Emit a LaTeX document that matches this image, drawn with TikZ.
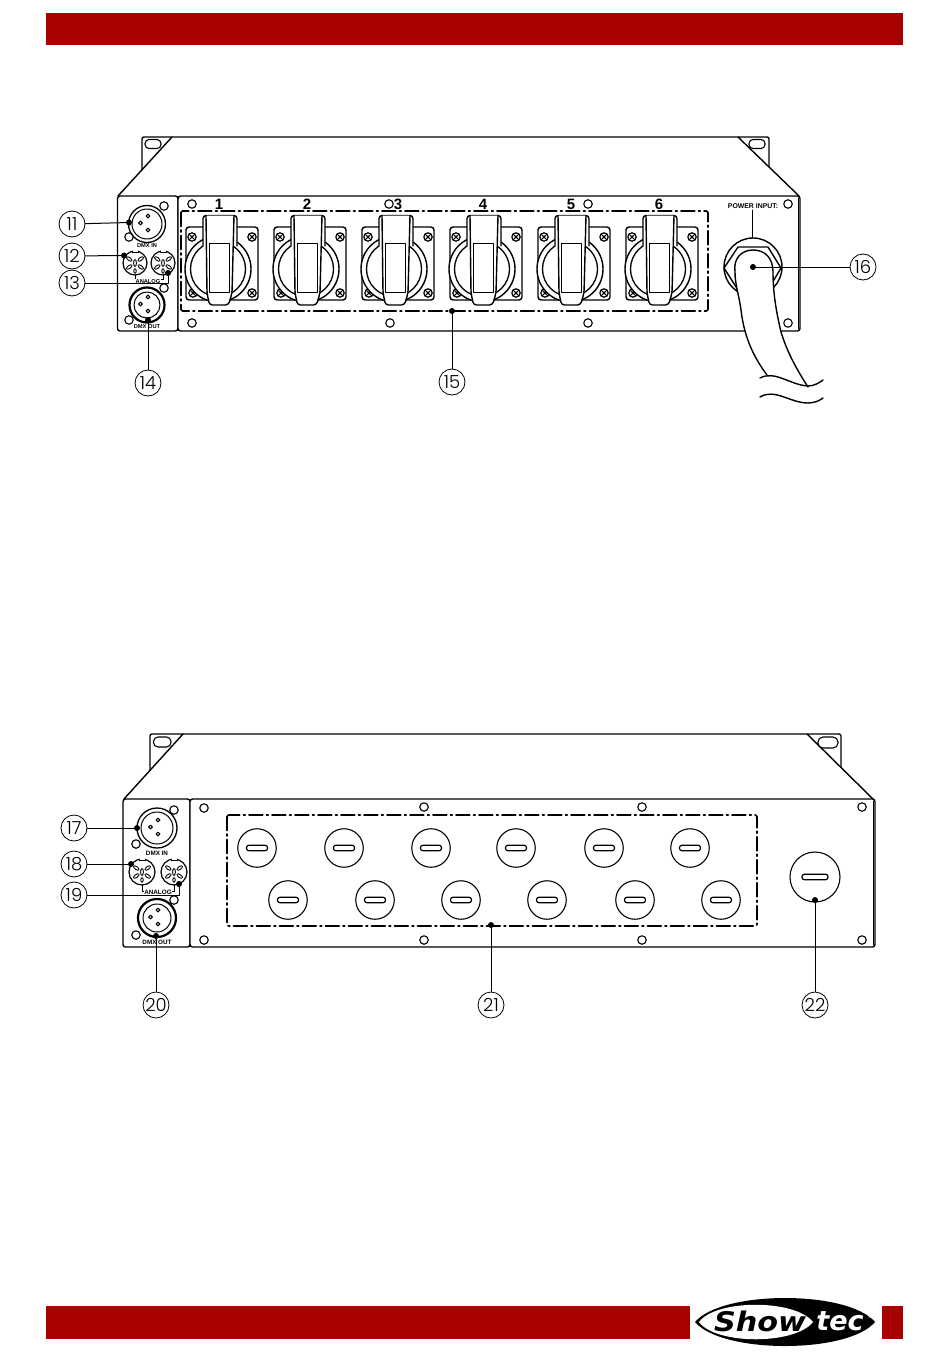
\documentclass[tikz,border=0pt]{standalone}
\usepackage{fontspec}
\setmainfont{Liberation Sans}
\newfontfamily\numf{Poppins Light}
\newfontfamily\logof{DejaVu Sans}
\definecolor{barred}{HTML}{A80000}
\tikzset{
  ln/.style={draw=black,line width=1.4pt},
  thin ln/.style={draw=black,line width=1.1pt},
  hole/.style={draw=black,line width=1.1pt,circle,minimum size=8.5pt,inner sep=0pt},
  leader/.style={draw=black,line width=1pt},
  callout/.style={draw=black,line width=.8pt,circle,minimum size=26pt,inner sep=0pt,fill=white,font=\numf\fontsize{18}{18}\selectfont},
  dotc/.style={circle,fill=black,minimum size=6pt,inner sep=0pt},
  dashbox/.style={draw=black,line width=1.6pt,rounded corners=1.5pt,dash pattern=on 14pt off 3.5pt on 2pt off 3.5pt},
  tinya/.style={font=\bfseries\fontsize{5.7}{6}\selectfont,inner sep=0pt},
  tinyb/.style={font=\bfseries\fontsize{6.3}{7}\selectfont,inner sep=0pt},
  socketnum/.style={font=\bfseries\fontsize{15}{15}\selectfont,inner sep=0pt},
  plugslot/.style={draw=black,line width=1.2pt,rounded corners=2.4pt,minimum width=21pt,minimum height=5.5pt,inner sep=0pt},
  plug/.style={draw=black,line width=1.1pt,circle,minimum size=38.5pt,inner sep=0pt},
}
\newcommand{\xlrpins}[2]{%
  \draw[line width=1pt] (#1+1,#2-8) circle (1.9) (#1-6.5,#2-1) circle (1.9) (#1+1,#2+6) circle (1.9);}
\newcommand{\dinsock}[3]{%
  \draw[line width=1.2pt] (#1,#2) circle (#3);
  \fill[white] (#1-3,#2-#3-1) rectangle (#1+3,#2-#3+1.8);
  \draw[line width=1pt] (#1-3,#2-#3+.2) -- (#1-3,#2-#3+1.8) -- (#1+3,#2-#3+1.8) -- (#1+3,#2-#3+.2);
  \draw[line width=.9pt] (#1,#2) ellipse (1.4 and 3.4) (#1,#2+8) ellipse (1.2 and 2.3);
  \foreach \a in {-35,35,145,215}{
    \draw[line width=.9pt,shift={(#1,#2)},rotate=\a] (7,0) ellipse (3.2 and 1.5);}
}
\begin{document}
\begin{tikzpicture}[x=1pt,y=-1pt,line join=round,line cap=round]
\useasboundingbox (0,0) rectangle (950,1359);
\fill[white] (0,0) rectangle (950,1359);
% bars
\fill[barred] (46,13) rectangle (903,45);
\fill[barred] (46,1306) rectangle (690,1339);
\fill[barred] (882,1306) rectangle (903,1339);
% logo
\fill[black] (695,1322) .. controls (722,1290) and (848,1290) .. (875,1322) .. controls (848,1354) and (722,1354) .. (695,1322) -- cycle;
\fill[white] (699,1322) .. controls (716,1299) and (795,1299) .. (813,1322) .. controls (795,1345) and (716,1345) .. (699,1322) -- cycle;
\node[inner sep=0pt,font=\logof\bfseries\itshape\fontsize{27}{27}\selectfont] (logoa) at (760,1321) {\scalebox{1.12}[1]{Show}};
\node[inner sep=0pt,text=white,font=\logof\bfseries\itshape\fontsize{27}{27}\selectfont] (logob) at (840,1321) {tec};
\node[inner sep=0pt,text=white,font=\logof\fontsize{5}{5}\selectfont] (logoc) at (870,1317) {®};
% ---------- unit 1 ----------
\draw[ln,rounded corners=2pt] (142,170) -- (142,137) -- (769,137) -- (769,167);
\draw[ln] (118,196) -- (172,137);
\draw[ln] (738,137) -- (799,196);
\draw[thin ln,rounded corners=4pt,fill=white] (145,139.5) rectangle (161,148.5);
\draw[thin ln,rounded corners=4pt,fill=white] (749,139.5) rectangle (765,148.5);
\draw[ln,rounded corners=2.5pt,fill=white] (117.5,196) rectangle (178,331);
\draw[ln,rounded corners=2.5pt,fill=white] (178,196) rectangle (800,331);
\draw[line width=.8pt] (798,198) -- (798,329);
\foreach \x/\y in {192/204,389/204,588/204,788/204,192/323,390/323,588/323,788/323,164/206,129/237,164/288,129/320}
  \node[hole] at (\x,\y) {};
% XLR
\draw[line width=1.3pt] (147,224) circle (18.5);
\draw[line width=1pt] (147,224) circle (15);
\xlrpins{147}{224}
\draw[line width=2.2pt] (147,305) circle (17.5);
\draw[line width=1pt] (147,305) circle (13);
\xlrpins{147}{305}
\dinsock{135}{263}{12}
\dinsock{163}{263}{12}
\draw[line width=.9pt] (135,275) -- (135,279.5) -- (147,279.5) (155,279.5) -- (163,279.5) -- (163,275);
\node[tinya] (in1) at (147,245.5) {DMX IN};
\node[tinya,fill=white,inner sep=.5pt] (an1) at (148,281.5) {ANALOG};
\node[tinya] (out1) at (147,326.5) {DMX OUT};
% sockets
\foreach \p/\n/\l in {0/1/219,88/2/307,176/3/398,264/4/483,352/5/571,440/6/659}{
  \node[socketnum] (num\n) at (\l,204) {\n};
  \begin{scope}[shift={(\p,0)}]
    \draw[ln,rounded corners=3pt,fill=white] (186,227) rectangle (258,300);
    \foreach \sx/\sy in {192/237,252/237,193/293,252/293}{
      \draw[line width=1.2pt] (\sx,\sy) circle (4.2);
      \draw[line width=.8pt] (\sx-3,\sy-3) -- (\sx+3,\sy+3) (\sx-3,\sy+3) -- (\sx+3,\sy-3);
      \fill[black] (\sx,\sy) circle (1.6);}
    \draw[ln,fill=white] (218,269) circle (33);
    \draw[line width=1.3pt] (218,269) circle (27.5);
    \draw[ln,fill=white,rounded corners=3pt] (203,246) -- (203,215.5) -- (237,215.5) -- (237,246);
    \draw[ln,fill=white,rounded corners=3pt] (206,215.5) -- (207,293) -- (209.5,305) -- (228.5,305) -- (232,293) -- (234,215.5);
    \draw[line width=1pt,fill=white] (209,243) rectangle (229,292);
  \end{scope}
}
\draw[dashbox] (181,211) rectangle (708,311);
% power
\node[inner sep=0pt,font=\bfseries\fontsize{6.9}{7}\selectfont] (pwr) at (753,206) {POWER INPUT:};
\draw[ln,fill=white] (753,267) circle (29);
\draw[ln,fill=white] (738,247) -- (768,247) -- (781,268) -- (768,290) -- (738,290) -- (724,268) -- cycle;
\fill[white] (767,375) .. controls (752,355) and (744,335) .. (741,310) .. controls (739,295) and (735,285) .. (735,272) .. controls (733,258) and (742,250) .. (753,250) .. controls (765,250) and (773,258) .. (773,272) .. controls (773,295) and (777,315) .. (781,332) .. controls (787,352) and (797,370) .. (808,387) -- cycle;
\draw[ln] (767,375) .. controls (752,355) and (744,335) .. (741,310) .. controls (739,295) and (735,285) .. (735,272) .. controls (733,258) and (742,250) .. (753,250) .. controls (765,250) and (773,258) .. (773,272) .. controls (773,295) and (777,315) .. (781,332) .. controls (787,352) and (797,370) .. (808,387);
\draw[ln] (760,378) .. controls (775,370) and (790,385) .. (808,386) .. controls (814,386) and (819,383) .. (823,380);
\draw[ln] (760,397) .. controls (775,388) and (790,403) .. (808,403) .. controls (814,403) and (819,401) .. (823,398);
% callouts unit 1
\node[callout] (c11) at (72,224) {11};
\node[callout] (c12) at (72,256) {12};
\node[callout] (c13) at (72,283) {13};
\node[callout] (c14) at (148,383) {14};
\node[callout] (c15) at (452,382) {15};
\node[callout] (c16) at (863,267) {16};
\node[dotc] (d11) at (129,222.5) {};
\node[dotc] (d12) at (124,255.5) {};
\node[dotc] (d13) at (168,273) {};
\node[dotc] (d14) at (148,320) {};
\node[dotc] (d15) at (452,311) {};
\node[dotc] (d16) at (753,267) {};
\coordinate (k13) at (168,283);
\coordinate (pt) at (752,210);
\coordinate (pb) at (752,238);
\draw[leader] (c11) -- (d11);
\draw[leader] (c12) -- (d12);
\draw[leader] (c13) -- (k13) -- (d13);
\draw[leader] (c14) -- (d14);
\draw[leader] (c15) -- (d15);
\draw[leader] (c16) -- (d16);
\draw[leader] (pt) -- (pb);
% ---------- unit 2 ----------
\draw[ln,rounded corners=2pt] (150,770) -- (150,734) -- (841,734) -- (841,767);
\draw[ln] (124,799) -- (183,734);
\draw[ln] (807,734) -- (873,799);
\draw[thin ln,rounded corners=4.5pt,fill=white] (153.5,737) rectangle (171,747);
\draw[thin ln,rounded corners=5pt,fill=white] (818,737) rectangle (838,748);
\draw[ln,rounded corners=2.5pt,fill=white] (123,799) rectangle (190,947);
\draw[ln,rounded corners=2.5pt,fill=white] (190,799) rectangle (875,947);
\draw[line width=.8pt] (873,801) -- (873,945);
\foreach \x/\y in {204/808,424/807,642/807,862/807,204/940,424/940,642/940,862/940,174/810,136/844,174/900,136/935}
  \node[hole] at (\x,\y) {};
\draw[line width=1.3pt] (157,828) circle (20);
\draw[line width=1pt] (157,828) circle (16);
\xlrpins{157}{828}
\draw[line width=2.2pt] (157,918) circle (19);
\draw[line width=1pt] (157,918) circle (14);
\xlrpins{157}{918}
\dinsock{142}{872}{13}
\dinsock{174}{872}{13}
\draw[line width=.9pt] (142,885) -- (142,891) -- (147,891) (170,891) -- (174,891) -- (174,885);
\node[tinyb] (in2) at (157,853) {DMX IN};
\node[tinyb,fill=white,inner sep=.5pt] (an2) at (158,892.5) {ANALOG};
\node[tinyb] (out2) at (157,942) {DMX OUT};
\draw[dashbox] (227,815) rectangle (757,926);
\foreach \x in {257,344,431,516,604,690}{
  \node[plug] at (\x,848) {};
  \node[plugslot] at (\x,848) {};}
\foreach \x in {288,375,461,547,635,721}{
  \node[plug] at (\x,900) {};
  \node[plugslot] at (\x,900) {};}
\node[plug,minimum size=50pt] at (815,877) {};
\node[plugslot,minimum width=26pt] at (815,877) {};
% callouts unit 2
\node[callout] (c17) at (74,828) {17};
\node[callout] (c18) at (74,864) {18};
\node[callout] (c19) at (74,895) {19};
\node[callout] (c20) at (156,1005) {20};
\node[callout] (c21) at (491,1005) {21};
\node[callout] (c22) at (815,1005) {22};
\node[dotc] (d17) at (137,828) {};
\node[dotc] (d18) at (131,864) {};
\node[dotc] (d19) at (179,884) {};
\node[dotc] (d20) at (156,936) {};
\node[dotc] (d21) at (491,925) {};
\node[dotc] (d22) at (815,900) {};
\coordinate (k19) at (179,895);
\draw[leader] (c17) -- (d17);
\draw[leader] (c18) -- (d18);
\draw[leader] (c19) -- (k19) -- (d19);
\draw[leader] (c20) -- (d20);
\draw[leader] (c21) -- (d21);
\draw[leader] (c22) -- (d22);
\end{tikzpicture}
\end{document}
